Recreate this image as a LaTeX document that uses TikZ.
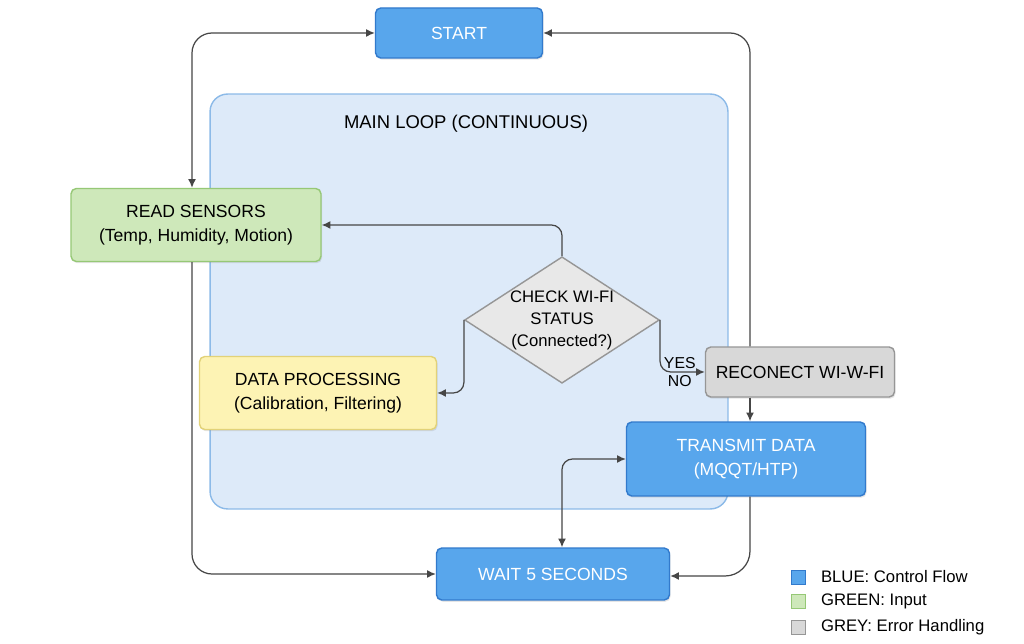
\documentclass[tikz,border=0pt]{standalone}
\usepackage{fontspec}
\setmainfont{Liberation Sans}
\usetikzlibrary{arrows.meta,positioning,shapes.geometric,shadows}
\definecolor{ctrlblue}{RGB}{88,166,236}
\definecolor{ctrlline}{RGB}{50,122,204}
\definecolor{loopfill}{RGB}{221,234,249}
\definecolor{loopline}{RGB}{140,186,232}
\definecolor{inputfill}{RGB}{206,232,186}
\definecolor{inputline}{RGB}{150,200,118}
\definecolor{procfill}{RGB}{253,243,180}
\definecolor{procline}{RGB}{226,210,120}
\definecolor{errfill}{RGB}{216,216,216}
\definecolor{errline}{RGB}{150,150,150}
\definecolor{chkfill}{RGB}{232,232,232}
\definecolor{wire}{RGB}{70,70,70}

\begin{document}
\begin{tikzpicture}[x=0.02cm, y=-0.02cm,
  box/.style={draw, rounded corners=3pt, align=center, line width=0.8pt, font=\fontsize{10}{14}\selectfont,
    drop shadow={shadow xshift=0.6pt, shadow yshift=-1pt, opacity=0.2}},
  ctrl/.style={box, fill=ctrlblue, draw=ctrlline, text=white},
  input/.style={box, fill=inputfill, draw=inputline},
  proc/.style={box, fill=procfill, draw=procline},
  err/.style={box, fill=errfill, draw=errline},
  chk/.style={diamond, draw=errline, fill=chkfill, line width=0.8pt, aspect=1.54, inner sep=0pt,
    align=center, font=\fontsize{9.5}{12.5}\selectfont},
  panel/.style={draw=loopline, fill=loopfill, rounded corners=10pt, line width=0.8pt},
  arr/.style={-{Latex[length=5pt,width=4.5pt]}, draw=wire, line width=0.7pt, rounded corners=6pt},
  dbl/.style={arr, {Latex[length=5pt,width=4.5pt]}-{Latex[length=5pt,width=4.5pt]}},
  lbl/.style={font=\fontsize{9}{11}\selectfont, inner sep=1.5pt},
  key/.style={draw, minimum size=0.28cm, inner sep=0pt},
  keytxt/.style={font=\fontsize{9.5}{11}\selectfont, anchor=west}
]
  \useasboundingbox[fill=white] (0,0) rectangle (1024,644);

  \node[panel, minimum width=10.36cm, minimum height=8.3cm] (loop) at (469,301.5) {};
  \node[font=\fontsize{10.5}{13}\selectfont] (looptitle) at (466,124) {MAIN LOOP (CONTINUOUS)};

  \node[ctrl, minimum width=3.34cm, minimum height=1.0cm] (start) at (459,33) {START};
  \node[input, minimum width=5.0cm, minimum height=1.46cm] (read) at (196,225) {READ SENSORS\\(Temp, Humidity, Motion)};
  \node[chk, minimum width=3.84cm, minimum height=2.5cm] (wifi) at (562,320) {CHECK WI-FI\\STATUS\\(Connected?)};
  \node[proc, minimum width=4.74cm, minimum height=1.46cm] (dataproc) at (318,393) {DATA PROCESSING\\(Calibration, Filtering)};
  \node[err, minimum width=3.78cm, minimum height=1.0cm] (recon) at (800,372) {RECONECT WI-W-FI};
  \node[ctrl, minimum width=4.78cm, minimum height=1.48cm] (trans) at (746,459) {TRANSMIT DATA\\(MQQT/HTP)};
  \node[ctrl, minimum width=4.66cm, minimum height=1.04cm] (wait) at (553,574) {WAIT 5 SECONDS};

  \draw[dbl, rounded corners=0.4cm] ([xshift=-0.08cm]read.north) |- (start.west);
  \draw[arr, rounded corners=0.4cm] ([xshift=-0.08cm]read.south) |- (wait.west);
  \draw[arr, rounded corners=0.4cm] ([xshift=0.08cm]trans.north |- recon.north) |- (start.east);
  \draw[arr] ([xshift=0.08cm]trans.north |- recon.south) -- ([xshift=0.08cm]trans.north);
  \draw[arr, rounded corners=0.5cm] ([xshift=0.08cm]trans.south) |- ([yshift=-0.04cm]wait.east);
  \draw[dbl] ([xshift=0.18cm]wait.north) |- (trans.west);
  \draw[arr] (wifi.north) |- (read.east);
  \draw[arr] (wifi.west) |- (dataproc.east);
  \draw[arr] (wifi.east) |- node[lbl, pos=0.72, above] {YES} node[lbl, pos=0.72, below] {NO} (recon.west);

  \node[key, fill=ctrlblue, draw=ctrlline] (kblue) at (798,577) {};
  \node[keytxt, right=0.19cm of kblue] (tblue) {BLUE: Control Flow};
  \node[key, fill=inputfill, draw=inputline] (kgreen) at (798,601) {};
  \node[keytxt, right=0.19cm of kgreen] (tgreen) {GREEN: Input};
  \node[key, fill=errfill, draw=errline] (kgrey) at (798,627) {};
  \node[keytxt, right=0.19cm of kgrey] (tgrey) {GREY: Error Handling};
\end{tikzpicture}
\end{document}
